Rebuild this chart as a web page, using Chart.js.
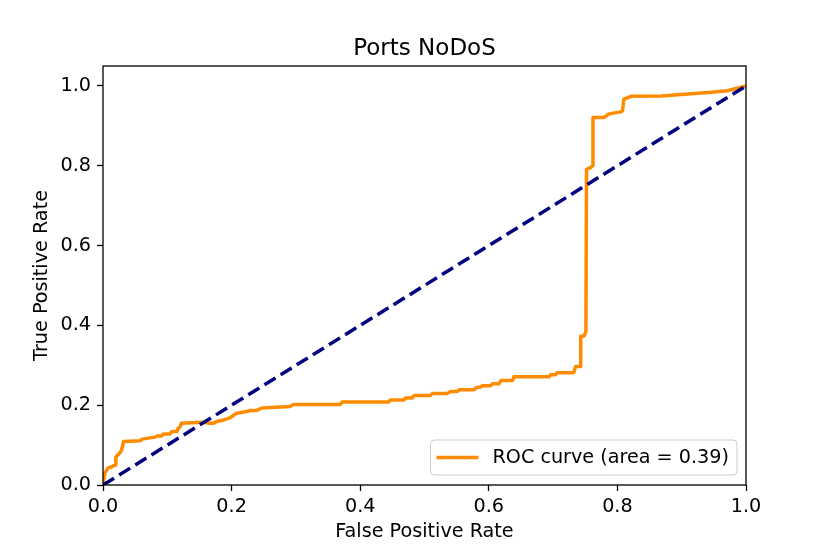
<!DOCTYPE html>
<html>
<head>
<meta charset="utf-8">
<script src="https://cdn.jsdelivr.net/npm/chart.js@4.4.0/dist/chart.umd.min.js"></script>
<style>
body{margin:0;background:#fff}
canvas{display:block}
</style>
</head>
<body>
<canvas id="myChart" width="830" height="554"></canvas>
<script>
// datos
const titulo = "Ports NoDoS"
const etiquetaCurva = "ROC curve (area = 0.39)"
const fpr = [0, 0.003, 0.008, 0.013, 0.019, 0.02, 0.026, 0.029, 0.032, 0.058, 0.061, 0.081, 0.084, 0.091, 0.094, 0.104,
  0.107, 0.115, 0.117, 0.12, 0.122, 0.156, 0.166, 0.172, 0.177, 0.188, 0.197, 0.208, 0.224, 0.229, 0.239, 0.247,
  0.291, 0.296, 0.369, 0.372, 0.444, 0.447, 0.468, 0.47, 0.481, 0.484, 0.509, 0.512, 0.535, 0.54, 0.551, 0.554,
  0.577, 0.582, 0.587, 0.59, 0.603, 0.606, 0.616, 0.619, 0.637, 0.639, 0.694, 0.696, 0.704, 0.706, 0.732, 0.735,
  0.743, 0.743, 0.748, 0.751, 0.752, 0.759, 0.761, 0.762, 0.779, 0.787, 0.805, 0.808, 0.81, 0.821, 0.868, 0.946,
  0.971, 1.0]
const tpr = [0, 0.03, 0.043, 0.045, 0.05, 0.07, 0.08, 0.088, 0.109, 0.111, 0.115, 0.12, 0.123, 0.123, 0.128, 0.128,
  0.134, 0.134, 0.142, 0.146, 0.155, 0.157, 0.155, 0.155, 0.159, 0.163, 0.168, 0.18, 0.184, 0.187, 0.187, 0.193,
  0.197, 0.202, 0.202, 0.208, 0.208, 0.213, 0.213, 0.218, 0.218, 0.224, 0.224, 0.229, 0.229, 0.234, 0.234, 0.239,
  0.239, 0.245, 0.245, 0.249, 0.249, 0.254, 0.254, 0.262, 0.262, 0.271, 0.271, 0.276, 0.276, 0.281, 0.281, 0.297,
  0.297, 0.373, 0.373, 0.385, 0.791, 0.796, 0.8, 0.921, 0.921, 0.93, 0.935, 0.938, 0.967, 0.974, 0.975, 0.984,
  0.988, 1.0]
const diagX = [0, 1]
const diagY = [0, 1]
const ticksX = [0, 0.2, 0.4, 0.6, 0.8, 1.0]
const ticksY = [0, 0.2, 0.4, 0.6, 0.8, 1.0]

const fuente = "'DejaVu Sans', sans-serif"
const tam = 19.2
Chart.defaults.font.family = fuente
Chart.defaults.color = '#000'

function puntos(xs, ys) {
  return xs.map((x, i) => ({x: x, y: ys[i]}))
}

// titulo centrado sobre el area, marco y leyenda abajo a la derecha
const marco = {
  id: 'marco',
  afterDatasetsDraw(chart) {
    const ctx = chart.ctx
    const a = chart.chartArea
    ctx.save()
    ctx.strokeStyle = '#000'
    ctx.lineWidth = 1.3
    ctx.strokeRect(a.left, a.top, a.right - a.left, a.bottom - a.top)

    ctx.fillStyle = '#000'
    ctx.font = "23px " + fuente
    ctx.textAlign = 'center'
    ctx.textBaseline = 'alphabetic'
    ctx.fillText(titulo, (a.left + a.right) / 2, a.top - 11)

    const ds = chart.data.datasets[1]
    ctx.font = tam + "px " + fuente
    ctx.textAlign = 'left'
    const tw = ctx.measureText(ds.label).width
    const w = 6 + 42 + 14 + tw + 8
    const h = 35
    const x1 = a.right - 9 - w
    const y1 = a.bottom - 10 - h
    ctx.beginPath()
    ctx.roundRect(x1, y1, w, h, 4)
    ctx.fillStyle = 'rgba(255,255,255,0.8)'
    ctx.fill()
    ctx.strokeStyle = '#cccccc'
    ctx.lineWidth = 1
    ctx.stroke()

    ctx.beginPath()
    ctx.moveTo(x1 + 6, y1 + h / 2)
    ctx.lineTo(x1 + 48, y1 + h / 2)
    ctx.strokeStyle = ds.borderColor
    ctx.lineWidth = ds.borderWidth
    ctx.stroke()

    ctx.fillStyle = '#000'
    ctx.textBaseline = 'middle'
    ctx.fillText(ds.label, x1 + 62, y1 + h / 2 + 1)
    ctx.restore()
  }
}

function grafico() {
  const ctx = document.getElementById('myChart')
  new Chart(ctx, {
    type: 'scatter',
    data: {
      datasets: [{
        label: 'azar',
        data: puntos(diagX, diagY),
        showLine: true,
        borderColor: '#000080',
        borderWidth: 3.5,
        borderDash: [13, 6],
        pointRadius: 0,
        fill: false
      }, {
        label: etiquetaCurva,
        data: puntos(fpr, tpr),
        showLine: true,
        borderColor: '#ff8c00',
        borderWidth: 3.5,
        borderJoinStyle: 'round',
        pointRadius: 0,
        fill: false
      }]
    },
    options: {
      responsive: false,
      animation: false,
      layout: {padding: {left: 0, right: 84, top: 66, bottom: 0}},
      plugins: {
        legend: {display: false},
        tooltip: {enabled: false},
        title: {display: false}
      },
      scales: {
        x: {
          type: 'linear',
          min: 0,
          max: 1,
          afterFit: s => { s.height = 69 },
          afterBuildTicks: s => { s.ticks = ticksX.map(v => ({value: v})) },
          grid: {drawOnChartArea: false, drawTicks: true, tickLength: 6, tickColor: '#000', tickWidth: 1.3},
          border: {display: false},
          ticks: {padding: 4, font: {size: tam}, color: '#000', callback: v => v.toFixed(1), maxRotation: 0},
          title: {display: true, text: 'False Positive Rate', font: {size: tam}, color: '#000', padding: {top: 0, bottom: 10}}
        },
        y: {
          type: 'linear',
          min: 0,
          max: 1.05,
          afterFit: s => { s.width = 103 },
          afterBuildTicks: s => { s.ticks = ticksY.map(v => ({value: v})) },
          grid: {drawOnChartArea: false, drawTicks: true, tickLength: 6, tickColor: '#000', tickWidth: 1.3},
          border: {display: false},
          ticks: {padding: 6, font: {size: tam}, color: '#000', callback: v => v.toFixed(1)},
          title: {display: true, text: 'True Positive Rate', font: {size: tam}, color: '#000', padding: {top: 30, bottom: 0}}
        }
      }
    },
    plugins: [marco]
  })
}

grafico()
</script>
</body>
</html>
